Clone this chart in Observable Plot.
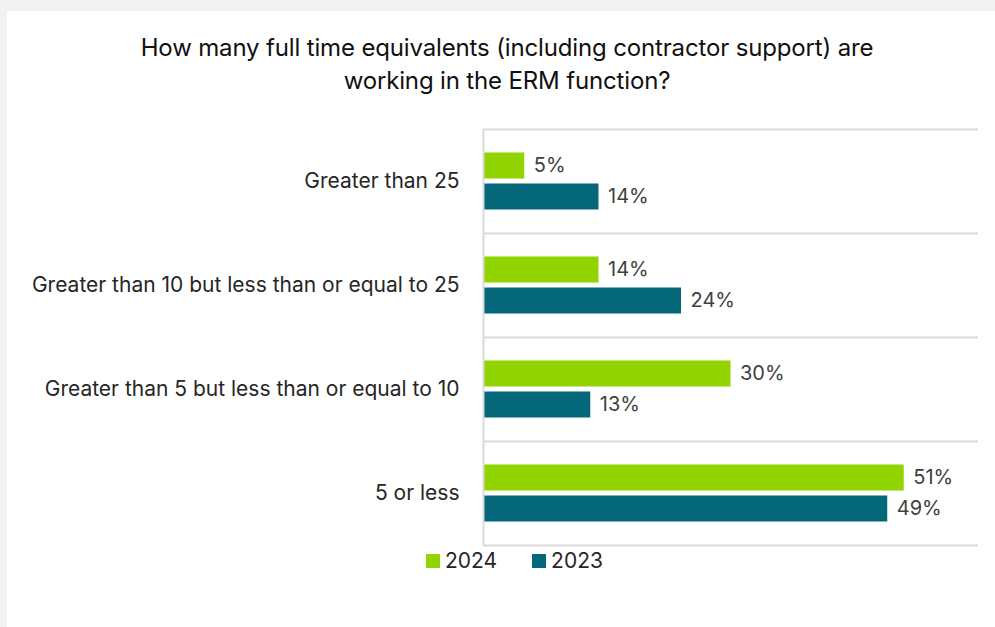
<!DOCTYPE html>
<html>
<head>
<meta charset="utf-8">
<script src="https://cdn.jsdelivr.net/npm/d3@7"></script>
<script src="https://cdn.jsdelivr.net/npm/@observablehq/plot@0.6"></script>
<style>
  html, body { margin: 0; padding: 0; background: #f2f2f2; }
  #page { position: relative; width: 995px; height: 627px; background: #f2f2f2; overflow: hidden; font-family: "Inter", "Open Sans", sans-serif; }
  #panel { position: absolute; left: 7px; top: 11px; width: 988px; height: 616px; background: #ffffff; }
  #title { position: absolute; left: 7px; width: 1000px; top: 31px; text-align: center; font-size: 24px; line-height: 33px; color: #111; letter-spacing: -0.15px; }
  #chart { position: absolute; left: 0; top: 0; }
  #legend { position: absolute; top: 548px; left: 426px; font-size: 21px; color: #262626; display: flex; }
  .item { display: flex; align-items: center; margin-right: 35px; }
  .sw { width: 14px; height: 14px; margin-right: 5px; }
</style>
</head>
<body>
<div id="page">
  <div id="panel"></div>
  <div id="title">How many full time equivalents (including contractor support) are<br>working in the ERM function?</div>
  <div id="chart"></div>
  <div id="legend"></div>
</div>
<script>
const categories = [
  "Greater than 25",
  "Greater than 10 but less than or equal to 25",
  "Greater than 5 but less than or equal to 10",
  "5 or less"
];
const seriesNames = ["2024", "2023"];
const values2024 = [5, 14, 30, 51];
const values2023 = [14, 24, 13, 49];
const colors = ["#92d400", "#04677a"];

const data = [];
categories.forEach((c, i) => {
  data.push({cat: c, series: "2024", value: values2024[i]});
  data.push({cat: c, series: "2023", value: values2023[i]});
});

const band = 104;      // band height in px
const barH = 26;
const gap = 5;
const off = (barH + gap) / 2;
const inset = (band - barH) / 2;

const d24 = data.filter(d => d.series === "2024");
const d23 = data.filter(d => d.series === "2023");

const chart = Plot.plot({
  width: 995,
  height: 560,
  marginTop: 129,
  marginBottom: 15,
  marginLeft: 483,
  marginRight: 17,
  style: {fontFamily: "Inter, 'Open Sans', sans-serif", background: "transparent", overflow: "visible"},
  x: {domain: [0, 60], axis: null},
  y: {domain: categories, padding: 0, axis: null},
  color: {domain: seriesNames, range: colors},
  marks: [
    Plot.ruleY(categories, {y: d => d, dy: -band / 2, stroke: "#d9d9d9", strokeWidth: 2}),
    Plot.ruleY(categories.slice(-1), {y: d => d, dy: band / 2, stroke: "#d9d9d9", strokeWidth: 2}),
    Plot.barX(d24, {y: "cat", x: "value", fill: d => d.series, insetTop: inset - off, insetBottom: inset + off}),
    Plot.barX(d23, {y: "cat", x: "value", fill: d => d.series, insetTop: inset + off, insetBottom: inset - off}),
    Plot.ruleX([0], {stroke: "#d9d9d9", strokeWidth: 2}),
    Plot.text(d24, {y: "cat", x: "value", text: d => d.value + "%", dx: 9, dy: -off, textAnchor: "start", fontSize: 20, fill: "#404040"}),
    Plot.text(d23, {y: "cat", x: "value", text: d => d.value + "%", dx: 9, dy: off, textAnchor: "start", fontSize: 20, fill: "#404040"}),
    Plot.text(categories, {y: d => d, x: 0, text: d => d, dx: -24, textAnchor: "end", fontSize: 21, fill: "#262626"})
  ]
});
document.getElementById("chart").appendChild(chart);

const legend = document.getElementById("legend");
seriesNames.forEach((s, i) => {
  const item = document.createElement("div");
  item.className = "item";
  const sw = document.createElement("div");
  sw.className = "sw";
  sw.style.background = colors[i];
  const t = document.createElement("span");
  t.textContent = s;
  item.appendChild(sw);
  item.appendChild(t);
  legend.appendChild(item);
});
</script>
</body>
</html>
